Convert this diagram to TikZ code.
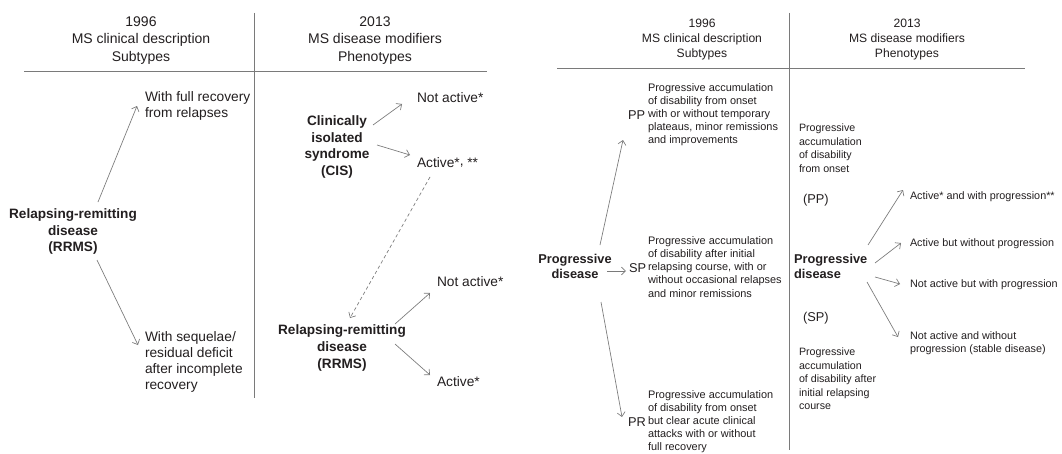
\documentclass[tikz,border=0pt]{standalone}
\usepackage{fontspec}
\setmainfont{Liberation Sans}
\usetikzlibrary{arrows.meta}
\definecolor{txt}{HTML}{231F20}
\definecolor{ln}{HTML}{7A7A7A}
\begin{document}
\begin{tikzpicture}[x=0.75pt,y=-0.75pt,
  every node/.style={inner sep=0pt,outer sep=0pt,text=txt},
  hL/.style={font=\fontsize{10.5}{13.1}\selectfont,align=center},
  tL/.style={font=\fontsize{10.3}{12}\selectfont,align=left,anchor=west},
  bL/.style={font=\fontsize{10.2}{12.4}\selectfont\bfseries,align=center},
  hR/.style={font=\fontsize{9.1}{11.6}\selectfont,align=center},
  sR/.style={font=\fontsize{8.2}{9.8}\selectfont,align=left,anchor=west},
  dR/.style={font=\fontsize{8.0}{10.1}\selectfont,align=left,anchor=west},
  labR/.style={font=\fontsize{9.6}{11}\selectfont,anchor=west},
  bR/.style={font=\fontsize{9.6}{11.25}\selectfont\bfseries,align=left,anchor=west},
  oR/.style={font=\fontsize{8.1}{9.8}\selectfont,align=left,anchor=west},
  rule/.style={draw=ln,line width=0.6pt},
  arr/.style={draw=ln,line width=0.5pt,-{Straight Barb[length=3.2pt,width=6pt]}},
  darr/.style={arr,dashed,dash pattern=on 2.5pt off 2pt}]
\useasboundingbox (0,0) rectangle (1062,453);
\fill[white] (0,0) rectangle (1062,453);

% ---------- left panel ----------
\draw[rule] (24,71) -- (487,71);
\draw[rule] (254,13) -- (254,398);
\node[hL] (hL1) at (141,40.5) {1996\\MS clinical description\\Subtypes};
\node[hL] (hL2) at (375,40.5) {2013\\MS disease modifiers\\Phenotypes};

\node[bL] (rrmsL) at (73,231.5) {Relapsing-remitting\\disease\\(RRMS)};
\node[tL] (fullrec) at (145,105.5) {With full recovery\\from relapses};
\node[tL] (seq) at (145,361.5) {With sequelae/\\residual deficit\\after incomplete\\recovery};

\node[bL] (cis) at (337,147) {Clinically\\isolated\\syndrome\\(CIS)};
\node[tL] (na1) at (417,98) {Not active*};
\node[tL] (ac1) at (417,163) {Active*\raisebox{0.4ex}{,} **};
\node[bL] (rrmsR) at (342,348) {Relapsing-remitting\\disease\\(RRMS)};
\node[tL] (na2) at (437,282) {Not active*};
\node[tL] (ac2) at (437,382) {Active*};

\draw[arr] ([shift={(25,-29.5)}]rrmsL.center) -- ([shift={(-8,0.5)}]fullrec.west);
\draw[arr] ([shift={(24,28.5)}]rrmsL.center) -- ([shift={(-7,-16.5)}]seq.west);
\draw[arr] ([shift={(36,-22)}]cis.center) -- ([shift={(-15,6)}]na1.west);
\draw[arr] ([shift={(40,-2)}]cis.center) -- ([shift={(-7,-8)}]ac1.west);
\draw[darr] ([shift={(13,14)}]ac1.west) -- ([shift={(8,-30)}]rrmsR.center);
\draw[arr] ([shift={(53,-24)}]rrmsR.center) -- ([shift={(-7,11)}]na2.west);
\draw[arr] ([shift={(53,-4)}]rrmsR.center) -- ([shift={(-7,-7)}]ac2.west);

% ---------- right panel ----------
\draw[rule] (557,68) -- (1025,68);
\draw[rule] (789,13) -- (789,450);
\node[hR] (hR1) at (702,39.5) {1996\\MS clinical description\\Subtypes};
\node[hR] (hR2) at (907,39.5) {2013\\MS disease modifiers\\Phenotypes};

\node[bR,align=center,anchor=center] (progL) at (575,266.5) {Progressive\\disease};
\node[labR] (pp) at (628,115) {PP};
\node[sR] (ppd) at (648,115) {Progressive accumulation\\of disability from onset\\with or without temporary\\plateaus, minor remissions\\and improvements};
\node[labR] (sp) at (629,268) {SP};
\node[sR] (spd) at (648,267) {Progressive accumulation\\of disability after initial\\relapsing course, with or\\without occasional relapses\\and minor remissions};
\node[labR] (pr) at (628,422) {PR};
\node[sR] (prd) at (648,421.5) {Progressive accumulation\\of disability from onset\\but clear acute clinical\\attacks with or without\\full recovery};

\draw[arr] ([shift={(25,-21.5)}]progL.center) -- ([shift={(-5,25)}]pp.west);
\draw[arr] ([shift={(32,4.5)}]progL.center) -- ([shift={(-3,3)}]sp.west);
\draw[arr] ([shift={(26,35.5)}]progL.center) -- ([shift={(-6,-5)}]pr.west);

\node[dR] (ppr) at (799,148) {Progressive\\accumulation\\of disability\\from onset};
\node[labR] (ppl) at (803,200) {(PP)};
\node[bR] (progR) at (794,266.5) {Progressive\\disease};
\node[labR] (spl) at (803,318) {(SP)};
\node[dR] (spr) at (799,379) {Progressive\\accumulation\\of disability after\\initial relapsing\\course};

\node[oR] (o1) at (910,197) {Active* and with progression**};
\node[oR] (o2) at (910,244) {Active but without progression};
\node[oR] (o3) at (910,285) {Not active but with progression};
\node[oR] (o4) at (910,343.5) {Not active and without\\progression (stable disease)};

\draw[arr] ([shift={(74,-21.5)}]progR.west) -- ([shift={(-7,-7)}]o1.west);
\draw[arr] ([shift={(81,-3.5)}]progR.west) -- ([shift={(-9,-1)}]o2.west);
\draw[arr] ([shift={(81,10.5)}]progR.west) -- ([shift={(-10,-1)}]o3.west);
\draw[arr] ([shift={(73,15.5)}]progR.west) -- ([shift={(-12,-6.5)}]o4.west);
\end{tikzpicture}
\end{document}
